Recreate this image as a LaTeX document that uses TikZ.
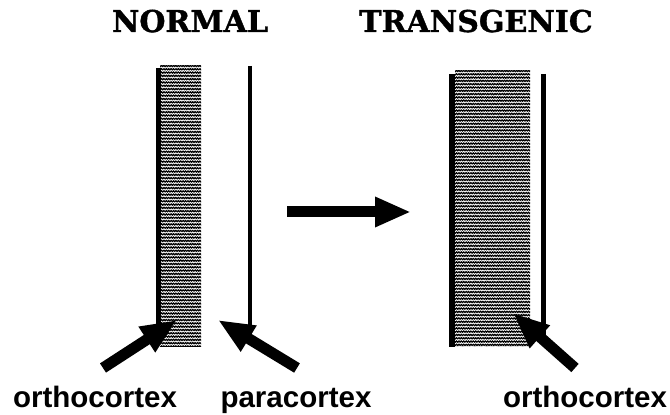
\documentclass[tikz,border=0pt]{standalone}
\usepackage{fontspec}
\setmainfont{Liberation Sans}
\newfontfamily\titlefont[FakeBold=1.2]{DejaVu Serif}
\usepackage{tikz}
\usetikzlibrary{positioning,arrows.meta,decorations.pathmorphing}

\begin{document}
\begin{tikzpicture}[x=0.5pt,y=-0.5pt,
  wall/.style={line width=2.5pt},
  thinwall/.style={line width=2pt},
  pointer/.style={line width=5.5pt, -{Triangle[length=18pt,width=14pt]}},
  heading/.style={font={\titlefont\bfseries\fontsize{15}{17}\selectfont}, anchor=base},
  tag/.style={font={\bfseries\fontsize{14.75}{17}\selectfont}, anchor=base},
  wavy/.style={line width=0.6pt, decorate, decoration={snake, segment length=1.2pt, amplitude=0.3pt}}]
\useasboundingbox (0,0) rectangle (670,415);

% titles
\node[heading] (normal) at (190,32) {NORMAL};
\node[heading] (transgenic) at (476,32) {TRANSGENIC};

% normal fibre
\begin{scope}
  \clip (160,66) rectangle (201,347);
  \foreach \yy in {66,69.3,...,348}
    \draw[wavy] (156,\yy) -- (205,\yy);
\end{scope}
\draw[wall] (158,68) -- (158,330);
\draw[thinwall] (250,66) -- (250,333);

% transgenic fibre
\begin{scope}
  \clip (455,71) rectangle (530,347);
  \foreach \yy in {71,74.3,...,349}
    \draw[wavy] (451,\yy) -- (534,\yy);
\end{scope}
\draw[line width=3pt] (452,74) -- (452,347);
\draw[wall] (543.5,74) -- (543.5,335);

% arrows
\coordinate (orthoTail) at (103,368);
\coordinate (orthoTip) at (177,320);
\coordinate (paraTail) at (297,368);
\coordinate (paraTip) at (218,320);
\coordinate (tgTail) at (575,368);
\coordinate (tgTip) at (513,313);
\coordinate (changeFrom) at (287,212);
\coordinate (changeTo) at (411,212);
\draw[pointer] (orthoTail) -- (orthoTip);
\draw[pointer] (paraTail) -- (paraTip);
\draw[pointer] (tgTail) -- (tgTip);
\draw[pointer] (changeFrom) -- (changeTo);

% labels
\node[tag] (orthoNormal) at (95,408) {orthocortex};
\node[tag] (para) at (296,408) {paracortex};
\node[tag] (orthoTg) at (585,408) {orthocortex};
\end{tikzpicture}
\end{document}
